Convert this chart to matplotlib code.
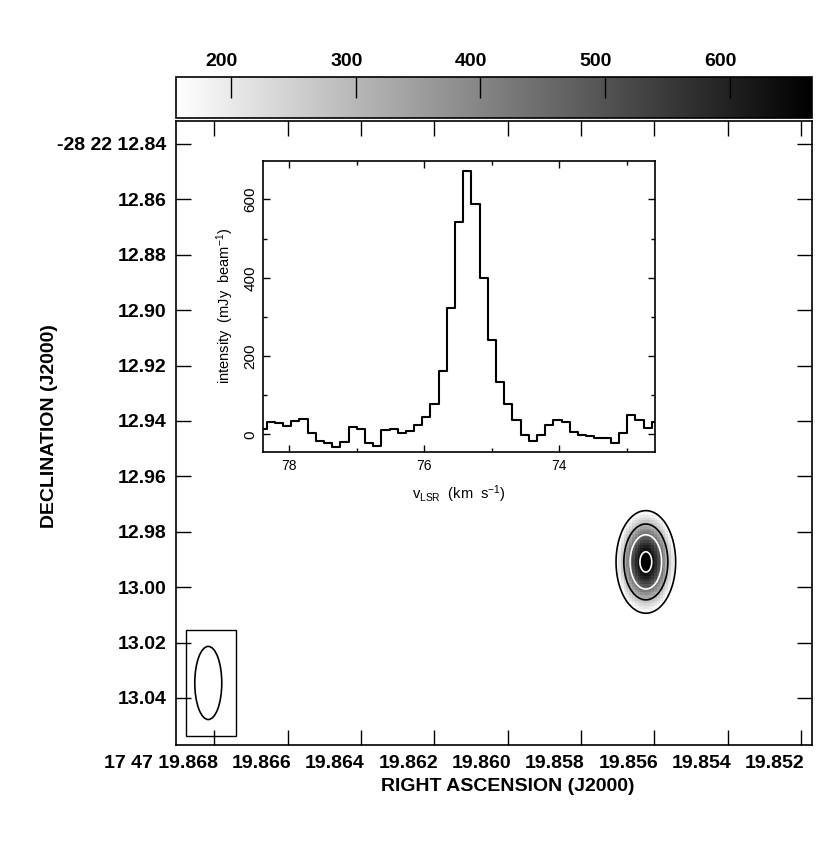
import matplotlib
matplotlib.use("Agg")
import matplotlib.pyplot as plt
import matplotlib.transforms as mtransforms
import numpy as np
from matplotlib.patches import Ellipse, Rectangle

plt.rcParams['font.family'] = ['Liberation Sans', 'DejaVu Sans']
plt.rcParams['mathtext.fontset'] = 'custom'
plt.rcParams['mathtext.rm'] = 'Liberation Sans'
plt.rcParams['mathtext.it'] = 'Liberation Sans:italic'
plt.rcParams['mathtext.bf'] = 'Liberation Sans:bold'

# ---- spectrum (inset) ----
velocity = [78.397, 78.276, 78.154, 78.033, 77.911, 77.790, 77.668, 77.547, 77.425,
            77.304, 77.182, 77.061, 76.939, 76.818, 76.696, 76.575, 76.453, 76.332,
            76.210, 76.089, 75.967, 75.846, 75.724, 75.603, 75.481, 75.360, 75.238,
            75.117, 74.995, 74.874, 74.752, 74.631, 74.509, 74.388, 74.266, 74.145,
            74.023, 73.902, 73.780, 73.659, 73.537, 73.416, 73.294, 73.173, 73.051,
            72.930, 72.808, 72.687, 72.565]
intensity = [15, 32, 30, 22, 34, 39, 4, -16, -21, -33, -19, 20, 15, -23, -29, 11, 13, 3,
             9, 24, 45, 79, 162, 323, 543, 673, 588, 400, 242, 133, 77, 37, -2, -17, -2,
             23, 38, 31, 7, -2, -4, -9, -10, -23, 4, 49, 38, 17, 31]
spec_xticks = [78, 76, 74]
spec_xminor = [77, 75, 73]
spec_yticks = [0, 200, 400, 600]
spec_yminor = [100, 300, 500]

# ---- map ----
ra_ticks = [19.868, 19.866, 19.864, 19.862, 19.860, 19.858, 19.856, 19.854, 19.852]
ra_labels = ['17 47 19.868', '19.866', '19.864', '19.862', '19.860', '19.858',
             '19.856', '19.854', '19.852']
dec_ticks = [12.84, 12.86, 12.88, 12.90, 12.92, 12.94, 12.96, 12.98, 13.00, 13.02, 13.04]
dec_labels = ['-28 22 12.84', '12.86', '12.88', '12.90', '12.92', '12.94', '12.96',
              '12.98', '13.00', '13.02', '13.04']
cbar_ticks = [200, 300, 400, 500, 600]
cbar_range = (156, 666)

# source model: peak (mJy/beam), position, gaussian widths
src_peak = 690
src_ra = 19.85623
src_dec = 12.9909
src_sig_ra = 0.000465
src_sig_dec = 0.0106
pix_ra = 0.0000758
pix_dec = 0.001
contour_levels = [150, 300, 450, 650]
contour_colors = ['black', 'black', 'white', 'white']

# synthesized beam
beam_ra, beam_dec = 19.86816, 13.0346
beam_w, beam_h = 0.000736, 0.0264
beam_box = (19.86876, 13.0154, 19.8674, 13.0537)

fig = plt.figure(figsize=(8.3, 8.66), dpi=100)
ax = fig.add_axes([176 / 830, 1 - 745 / 866, 636 / 830, 624 / 866])

# pixel image
ra_edges = np.arange(src_ra - 12 * pix_ra, src_ra + 12.5 * pix_ra, pix_ra)
dec_edges = np.arange(src_dec - 45 * pix_dec, src_dec + 45.5 * pix_dec, pix_dec)
rc = 0.5 * (ra_edges[1:] + ra_edges[:-1])
dc = 0.5 * (dec_edges[1:] + dec_edges[:-1])
RR, DD = np.meshgrid(rc, dc)
Z = src_peak * np.exp(-0.5 * (((RR - src_ra) / src_sig_ra) ** 2 + ((DD - src_dec) / src_sig_dec) ** 2))
Zm = np.ma.masked_less(Z, cbar_range[0])
mesh = ax.pcolormesh(ra_edges, dec_edges, Zm, cmap='gray_r',
                     vmin=cbar_range[0], vmax=cbar_range[1], shading='flat')

# smooth contours
rf = np.linspace(ra_edges[0], ra_edges[-1], 300)
df = np.linspace(dec_edges[0], dec_edges[-1], 600)
RF, DF = np.meshgrid(rf, df)
ZF = src_peak * np.exp(-0.5 * (((RF - src_ra) / src_sig_ra) ** 2 + ((DF - src_dec) / src_sig_dec) ** 2))
ax.contour(RF, DF, ZF, levels=contour_levels, colors=contour_colors, linewidths=1.2)

# beam
ax.add_patch(Ellipse((beam_ra, beam_dec), beam_w, beam_h, fill=False, ec='black', lw=1.2))
ax.add_patch(Rectangle((beam_box[0], beam_box[1]), beam_box[2] - beam_box[0],
                       beam_box[3] - beam_box[1], fill=False, ec='black', lw=1.0))

ax.set_xlim(19.86904, 19.8517)
ax.set_ylim(13.057, 12.8317)
ax.set_xticks(ra_ticks)
ax.set_xticklabels(ra_labels)
ax.set_yticks(dec_ticks)
ax.set_yticklabels(dec_labels)
ax.tick_params(direction='in', length=11, width=1, top=True, right=True,
               labelsize=14, pad=7)
shift_x = mtransforms.ScaledTranslation(-0.26, 0, fig.dpi_scale_trans)
shift_first = mtransforms.ScaledTranslation(0.04, 0, fig.dpi_scale_trans)
for i, lab in enumerate(ax.get_xticklabels()):
    lab.set_fontweight('bold')
    if i == 0:
        lab.set_ha('right')
        lab.set_transform(lab.get_transform() + shift_first)
    else:
        lab.set_transform(lab.get_transform() + shift_x)
for lab in ax.get_yticklabels():
    lab.set_fontweight('bold')
for sp in ax.spines.values():
    sp.set_linewidth(1.2)
ax.set_xlabel('RIGHT ASCENSION (J2000)', fontsize=14, fontweight='bold')
ax.set_ylabel('DECLINATION (J2000)', fontsize=14, fontweight='bold')
ax.xaxis.set_label_coords((508 - 176) / 636, (745 - 778) / 624)
ax.yaxis.set_label_coords((58 - 176) / 636, (745 - 426) / 624)

# colorbar
cax = fig.add_axes([176 / 830, 1 - 118 / 866, 636 / 830, 41 / 866])
cb = fig.colorbar(mesh, cax=cax, orientation='horizontal')
cb.set_ticks(cbar_ticks)
cax.xaxis.set_ticks_position('top')
cax.xaxis.set_label_position('top')
cax.tick_params(direction='in', length=15, width=1, labelsize=14, pad=5,
                top=True, bottom=False, labeltop=True, labelbottom=False)
shift_cb = mtransforms.ScaledTranslation(-0.09, 0, fig.dpi_scale_trans)
for lab in cax.get_xticklabels():
    lab.set_fontweight('bold')
    lab.set_transform(lab.get_transform() + shift_cb)
cb.outline.set_linewidth(1.2)

# inset spectrum
axi = fig.add_axes([262.7 / 830, 1 - 451.7 / 866, 392.3 / 830, 291 / 866])
axi.step(velocity, intensity, where='mid', color='black', lw=1.5)
axi.set_xlim(78.394, 72.578)
axi.set_ylim(-44, 699)
axi.set_xticks(spec_xticks)
axi.set_xticks(spec_xminor, minor=True)
axi.set_yticks(spec_yticks)
axi.set_yticks(spec_yminor, minor=True)
axi.tick_params(which='both', direction='in', top=True, right=True, width=1)
axi.tick_params(which='major', length=5, pad=5)
axi.tick_params(which='minor', length=3)
axi.tick_params(axis='x', labelsize=10)
axi.tick_params(axis='y', labelsize=11, pad=4)
for lab in axi.get_yticklabels():
    lab.set_rotation(90)
    lab.set_va('center')
for sp in axi.spines.values():
    sp.set_linewidth(1.2)
axi.set_xlabel(r'v$_{\rm LSR}$  (km  s$^{-1}$)', fontsize=10.5, labelpad=8)
axi.set_ylabel(r'intensity  (mJy  beam$^{-1}$)', fontsize=10.5, labelpad=1)
axi.yaxis.set_label_coords((236 - 262.7) / 392.3, 0.5)

fig.savefig('out.png', dpi=100)
